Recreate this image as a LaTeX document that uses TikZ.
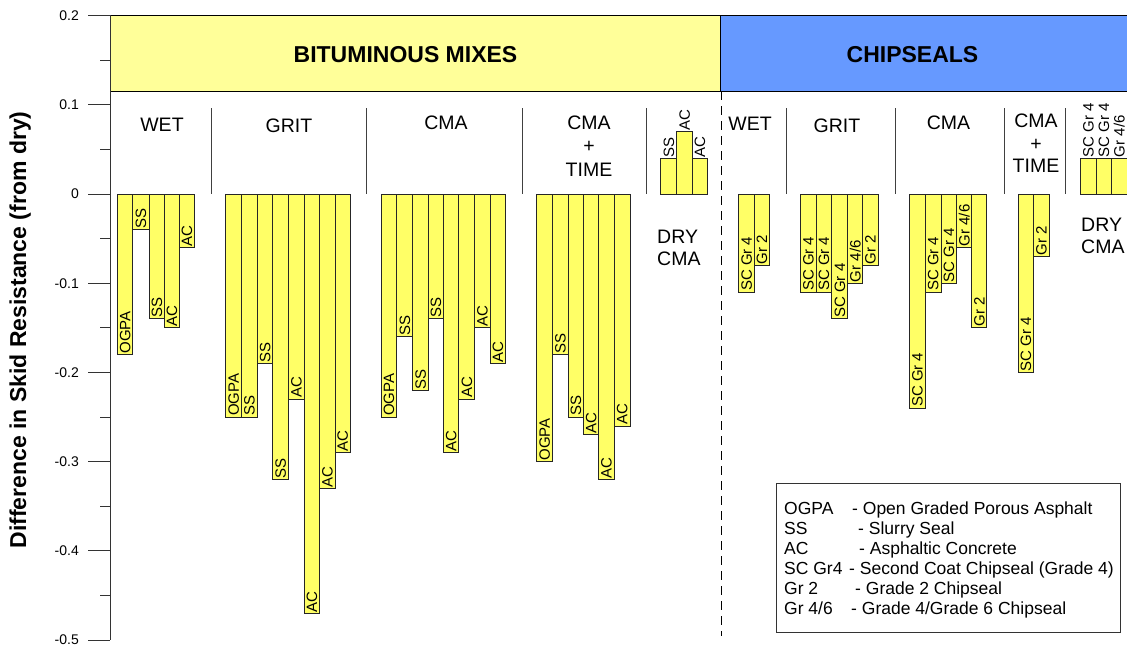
\documentclass[tikz,border=0pt]{standalone}
\usepackage{fontspec}
\setmainfont{Liberation Sans}
\definecolor{hdryellow}{HTML}{FFFF99}
\definecolor{baryellow}{HTML}{FFFF66}
\definecolor{hdrblue}{HTML}{6699FF}
\newcommand\fsz[2]{\fontsize{#1}{#2}\selectfont}
\newcommand\mybar[5]{%
  \draw[barbox] (#2,194) rectangle (#3,{194-892*(#4)});
  \node[barlbl] (#1) at ({(#2+#3)/2},{194-892*(#4)}) {#5};}
\begin{document}
\begin{tikzpicture}[x=1pt,y=-1pt,
  barbox/.style={fill=baryellow,draw=black!85,line width=0.8pt},
  barlbl/.style={rotate=90,anchor=west,inner sep=1pt,text height=10.7pt,text depth=0pt,font=\fsz{15}{16}},
  catlbl/.style={anchor=base,inner sep=0pt,font=\fsz{19.5}{23}},
  catlblw/.style={anchor=base west,inner sep=0pt,font=\fsz{19.5}{23}},
  hdrlbl/.style={anchor=base,inner sep=0pt,font=\fsz{23}{27}\bfseries},
  ticklbl/.style={anchor=east,inner sep=0pt,font=\fsz{14}{16}},
  seprule/.style={draw=black!75,line width=0.9pt},
  leglbl/.style={anchor=base west,inner sep=0pt,font=\fsz{17.5}{20}},
  axisline/.style={draw=black!80,line width=0.9pt}
]
\useasboundingbox (0,0) rectangle (1127,648);
\fill[white] (0,0) rectangle (1127,648);

% header boxes
\draw[fill=hdryellow,draw=black,line width=0.9pt] (110,15) rectangle (720,91);
\draw[fill=hdrblue,draw=black,line width=0.9pt] (720,15) rectangle (1128,91);
\node[hdrlbl] (hbit) at (405.5,62.5) {BITUMINOUS MIXES};
\node[hdrlbl] (hchip) at (912.5,62.5) {CHIPSEALS};

% axis
\draw[axisline] (110,15) -- (110,640);
\foreach \v/\t [count=\i] in {0.2/0.2,0.1/0.1,0/0,-0.1/-0.1,-0.2/-0.2,-0.3/-0.3,-0.4/-0.4,-0.5/-0.5}{
  \draw[axisline] (88,{194-892*(\v)}) -- (110,{194-892*(\v)});
  \node[ticklbl] (tick\i) at (79,{194-892*(\v)}) {\t};
}
\foreach \v in {0.15,0.05,-0.05,-0.15,-0.25,-0.35,-0.45}{
  \draw[axisline] (100,{194-892*(\v)}) -- (110,{194-892*(\v)});
}
\node[rotate=90,anchor=base,inner sep=0pt,font=\fsz{23}{27}\bfseries] (ylab) at (26,330) {Difference in Skid Resistance (from dry)};

% separators
\foreach \x in {211,366,522,646,786,895,1004,1065}{
  \draw[seprule] (\x,108) -- (\x,194);
}
\draw[black,line width=0.9pt,dash pattern=on 9pt off 6pt] (721,91) -- (721,636);

% category labels
\node[catlbl] (bwet) at (162,131) {WET};
\node[catlbl] (bgrit) at (289,132) {GRIT};
\node[catlbl] (bcma) at (446,129) {CMA};
\node[catlbl] (bt1) at (589,129) {CMA};
\node[catlbl] (bt2) at (589,152.5) {+};
\node[catlbl] (bt3) at (589,176) {TIME};
\node[catlblw] (bd1) at (657,243) {DRY};
\node[catlblw] (bd2) at (657,265) {CMA};
\node[catlbl] (cwet) at (750,130) {WET};
\node[catlbl] (cgrit) at (837,132) {GRIT};
\node[catlbl] (ccma) at (948.5,129) {CMA};
\node[catlbl] (ct1) at (1036,127) {CMA};
\node[catlbl] (ct2) at (1036,150) {+};
\node[catlbl] (ct3) at (1036,172) {TIME};
\node[catlblw] (cd1) at (1081,231) {DRY};
\node[catlblw] (cd2) at (1081,253) {CMA};

% bituminous: wet
\mybar{bw1}{117.3}{132.7}{-0.18}{OGPA}
\mybar{bw2}{132.7}{149}{-0.04}{SS}
\mybar{bw3}{149}{164.3}{-0.14}{SS}
\mybar{bw4}{164.3}{179.3}{-0.15}{AC}
\mybar{bw5}{179.3}{194.3}{-0.06}{AC}
% grit
\mybar{bg1}{225.7}{241.3}{-0.25}{OGPA}
\mybar{bg2}{241.3}{257.3}{-0.25}{SS}
\mybar{bg3}{257.3}{272.7}{-0.19}{SS}
\mybar{bg4}{272.7}{288.3}{-0.32}{SS}
\mybar{bg5}{288.3}{304}{-0.23}{AC}
\mybar{bg6}{304}{319.3}{-0.47}{AC}
\mybar{bg7}{319.3}{335}{-0.33}{AC}
\mybar{bg8}{335}{350}{-0.29}{AC}
% cma
\mybar{bc1}{381}{396.7}{-0.25}{OGPA}
\mybar{bc2}{396.7}{412.7}{-0.16}{SS}
\mybar{bc3}{412.7}{428.3}{-0.22}{SS}
\mybar{bc4}{428.3}{443.3}{-0.14}{SS}
\mybar{bc5}{443.3}{458.7}{-0.29}{AC}
\mybar{bc6}{458.7}{474.7}{-0.23}{AC}
\mybar{bc7}{474.7}{490}{-0.15}{AC}
\mybar{bc8}{490}{505.3}{-0.19}{AC}
% cma + time
\mybar{bm1}{536.7}{552.3}{-0.30}{OGPA}
\mybar{bm2}{552.3}{568.3}{-0.18}{SS}
\mybar{bm3}{568.3}{583.3}{-0.25}{SS}
\mybar{bm4}{583.3}{598.7}{-0.27}{AC}
\mybar{bm5}{598.7}{614}{-0.32}{AC}
\mybar{bm6}{614}{630}{-0.26}{AC}
% dry cma
\mybar{bd1b}{660.7}{676.7}{0.04}{SS}
\mybar{bd2b}{676.7}{692.3}{0.07}{AC}
\mybar{bd3b}{692.3}{707.3}{0.04}{AC}

% chipseals: wet
\mybar{cw1}{738.7}{754.3}{-0.11}{SC Gr 4}
\mybar{cw2}{754.3}{769.3}{-0.08}{Gr 2}
% grit
\mybar{cg1}{800.7}{816}{-0.11}{SC Gr 4}
\mybar{cg2}{816}{831.7}{-0.11}{SC Gr 4}
\mybar{cg3}{831.7}{847.7}{-0.14}{SC Gr 4}
\mybar{cg4}{847.7}{862.7}{-0.10}{Gr 4/6}
\mybar{cg5}{862.7}{878}{-0.08}{Gr 2}
% cma
\mybar{cc1}{909.7}{925}{-0.24}{SC Gr 4}
\mybar{cc2}{925}{941}{-0.11}{SC Gr 4}
\mybar{cc3}{941}{956.7}{-0.10}{SC Gr 4}
\mybar{cc4}{956.7}{971.7}{-0.06}{Gr 4/6}
\mybar{cc5}{971.7}{986.7}{-0.15}{Gr 2}
% cma + time
\mybar{cm1}{1018.3}{1033.3}{-0.20}{SC Gr 4}
\mybar{cm2}{1033.3}{1049}{-0.07}{Gr 2}
% dry cma
\mybar{cd1b}{1080.7}{1096}{0.04}{SC Gr 4}
\mybar{cd2b}{1096}{1111.7}{0.04}{SC Gr 4}
\mybar{cd3b}{1111.7}{1127}{0.04}{Gr 4/6}

% legend
\draw[draw=black!80,line width=0.9pt] (776,483) rectangle (1120,632);
\node[leglbl] (l1a) at (784,514) {OGPA};
\node[leglbl] (l1b) at (852,514) {- Open Graded Porous Asphalt};
\node[leglbl] (l2a) at (784,534) {SS};
\node[leglbl] (l2b) at (858,534) {- Slurry Seal};
\node[leglbl] (l3a) at (784,554) {AC};
\node[leglbl] (l3b) at (859,554) {- Asphaltic Concrete};
\node[leglbl] (l4a) at (784,574) {SC Gr4};
\node[leglbl] (l4b) at (849,574) {- Second Coat Chipseal (Grade 4)};
\node[leglbl] (l5a) at (784,594) {Gr 2};
\node[leglbl] (l5b) at (855,594) {- Grade 2 Chipseal};
\node[leglbl] (l6a) at (784,614) {Gr 4/6};
\node[leglbl] (l6b) at (851,614) {- Grade 4/Grade 6 Chipseal};
\end{tikzpicture}
\end{document}
